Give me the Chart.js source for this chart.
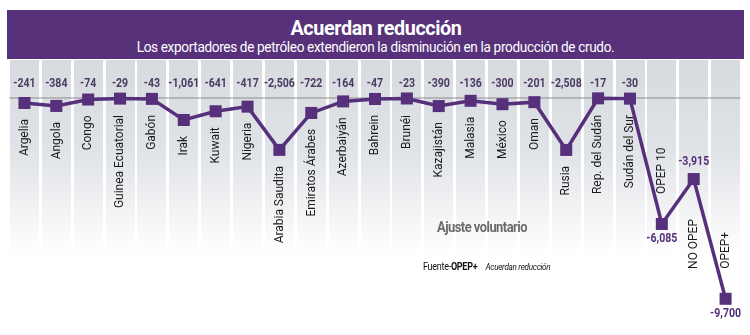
<!DOCTYPE html>
<html>
<head>
<meta charset="utf-8">
<script src="https://cdn.jsdelivr.net/npm/chart.js@4/dist/chart.umd.min.js"></script>
<style>
	html, body { margin: 0; padding: 0; background: #fff; }
	#wrap { position: relative; width: 750px; height: 335px; overflow: hidden; }
	#chart { position: absolute; left: 0; top: 0; }
	.header {
		position: absolute; left: 7px; top: 10px; width: 737px; height: 49px;
		background: #57327a; color: #fff; text-align: center;
		font-family: 'Roboto', sans-serif;
	}
	.header span { display: inline-block; transform-origin: center; white-space: nowrap; }
	.header .t { margin-top: 7px; font-size: 21px; line-height: 22px; font-weight: bold; letter-spacing: -0.4px; transform: scaleX(0.94); }
	.header .s { display: block; font-size: 14px; line-height: 17px; letter-spacing: -0.35px; transform: scaleX(0.97); }
	.note { position: absolute; font-family: 'Roboto', sans-serif; white-space: nowrap; transform-origin: left center; }
	.ajuste { left: 437px; top: 218px; font-size: 15px; font-weight: bold; color: #6b6b6b; letter-spacing: -0.6px; transform: scaleX(0.86); }
	.fuente { left: 423px; top: 261px; font-size: 10px; color: #111; letter-spacing: -0.3px; transform: scaleX(0.9); }
	.fuente i { margin-left: 9px; font-size: 9px; }
</style>
</head>
<body>
<div id="wrap">
	<canvas id="chart" width="750" height="335"></canvas>
	<div class="header">
		<span class="t">Acuerdan reducción</span>
		<span class="s">Los exportadores de petróleo extendieron la disminución en la producción de crudo.</span>
	</div>
	<div class="note ajuste">Ajuste voluntario</div>
	<div class="note fuente">Fuente-<b>OPEP+</b><i>Acuerdan reducción</i></div>
</div>
<script>
	const categories = ['Argelia', 'Angola', 'Congo', 'Guinea Ecuatorial', 'Gabón', 'Irak', 'Kuwait', 'Nigeria',
		'Arabia Saudita', 'Emiratos Árabes', 'Azerbaiyán', 'Bahrein', 'Brunéi', 'Kazajistán', 'Malasia', 'México',
		'Oman', 'Rusia', 'Rep. del Sudán', 'Sudán del Sur', 'OPEP 10', 'NO OPEP', 'OPEP+']
	const values = [-241, -384, -74, -29, -43, -1061, -641, -417, -2506, -722, -164, -47, -23, -390, -136, -300,
		-201, -2508, -17, -30, -6085, -3915, -9700]
	const totals = ['OPEP 10', 'NO OPEP', 'OPEP+']

	const PURPLE = '#57307c'
	const FONT = "'Roboto', sans-serif"
	const SQUEEZE = 0.88 // the original face is a condensed one
	const ZERO_Y = 98 // where the zero line sits on the page
	const PX_PER_UNIT = 0.0207

	// grey column stripes + zero line, behind the line
	const backdrop = {
		id: 'backdrop',
		beforeDatasetsDraw(chart) {
			const ctx = chart.ctx
			const x = chart.scales.x
			const y = chart.scales.y
			const band = x.width / categories.length
			const top = chart.chartArea.top
			const grad = ctx.createLinearGradient(0, top, 0, 255)
			grad.addColorStop(0, '#d7dadf')
			grad.addColorStop(0.45, '#dfe2e6')
			grad.addColorStop(1, '#ffffff')
			ctx.save()
			ctx.fillStyle = grad
			categories.forEach((c, i) => {
				const cx = x.getPixelForValue(i)
				ctx.fillRect(Math.round(cx - band / 2 + 1.5), top, Math.round(band - 3), 255 - top)
			})
			const y0 = y.getPixelForValue(0)
			ctx.strokeStyle = '#8d8d8d'
			ctx.lineWidth = 1.2
			ctx.beginPath()
			ctx.moveTo(x.left + 1, y0)
			ctx.lineTo(x.right - 1, y0)
			ctx.stroke()
			ctx.restore()
		}
	}

	function flat(ctx, text, px, py) {
		ctx.save()
		ctx.translate(px, py)
		ctx.scale(SQUEEZE, 1)
		ctx.textAlign = 'center'
		ctx.textBaseline = 'middle'
		ctx.fillText(text, 0, 0)
		ctx.restore()
	}

	function rotated(ctx, text, px, py, align) {
		ctx.save()
		ctx.translate(px, py)
		ctx.rotate(-Math.PI / 2)
		ctx.scale(0.92, 1)
		ctx.textAlign = align
		ctx.textBaseline = 'middle'
		ctx.fillText(text, 0, 0)
		ctx.restore()
	}

	const labelsPlugin = {
		id: 'labels',
		afterDatasetsDraw(chart) {
			const ctx = chart.ctx
			const meta = chart.getDatasetMeta(0)
			ctx.save()
			meta.data.forEach((pt, i) => {
				const name = categories[i]
				const txt = values[i].toLocaleString('en-US')
				if (totals.indexOf(name) < 0) {
					ctx.font = 'bold 12px ' + FONT
					ctx.fillStyle = '#4b3a62'
					flat(ctx, txt, pt.x, 84)
					ctx.font = '13px ' + FONT
					ctx.fillStyle = '#1b1b1b'
					rotated(ctx, name, pt.x, Math.max(pt.y + 16, 115), 'right')
				} else {
					const prev = values[i - 1]
					const next = i + 1 < values.length ? values[i + 1] : -Infinity
					const isLow = values[i] < prev && values[i] <= next || i === values.length - 1
					ctx.font = 'bold 12px ' + FONT
					ctx.fillStyle = '#55307a'
					flat(ctx, txt, pt.x, isLow ? pt.y + 15 : pt.y - 17)
					ctx.font = '13px ' + FONT
					ctx.fillStyle = '#1b1b1b'
					if (isLow) rotated(ctx, name, pt.x, pt.y - 30, 'left')
					else rotated(ctx, name, pt.x, pt.y + 40, 'right')
				}
			})
			ctx.restore()
		}
	}

	const cfg = {
		type: 'line',
		data: {
			labels: categories,
			datasets: [{
				data: values,
				borderColor: PURPLE,
				borderWidth: 3.5,
				pointStyle: 'rect',
				pointRadius: 8.5,
				pointBackgroundColor: PURPLE,
				pointBorderWidth: 0,
				tension: 0,
				clip: false,
			}],
		},
		options: {
			responsive: false,
			animation: false,
			layout: { padding: { top: 60, left: 6, right: 5, bottom: 0 } },
			plugins: { legend: { display: false }, tooltip: { enabled: false } },
			scales: {
				x: { display: false, offset: true },
				y: { display: false, min: -11438, max: 1834 },
			},
		},
		plugins: [backdrop, labelsPlugin],
	}

	const chart = new Chart(document.getElementById('chart'), cfg)

	// fit the value range to the real chart area so the zero line and the scale land where the original has them
	;(function () {
		const area = chart.chartArea
		chart.options.scales.y.max = (ZERO_Y - area.top) / PX_PER_UNIT
		chart.options.scales.y.min = -(area.bottom - ZERO_Y) / PX_PER_UNIT
		chart.update('none')
	})()
</script>
</body>
</html>
